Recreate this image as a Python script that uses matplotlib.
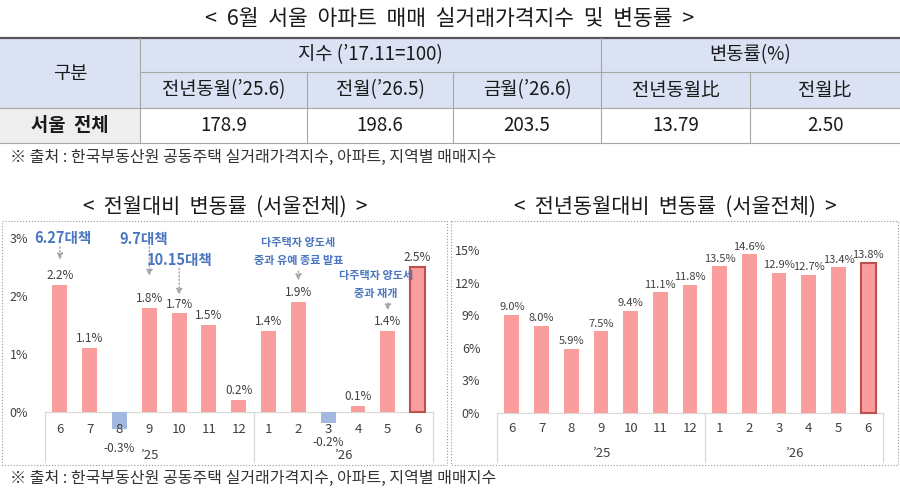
import matplotlib
matplotlib.use('Agg')
import matplotlib.pyplot as plt
import matplotlib.ticker as mticker
from matplotlib.patches import Rectangle

plt.rcParams['font.family'] = ['Noto Sans CJK KR', 'DejaVu Sans']

# ---- data ----
title = '<  6월  서울  아파트  매매  실거래가격지수  및  변동률  >'
head_group = ['지수 (’17.11=100)', '변동률(%)']
head_cols = ['전년동월(’25.6)', '전월(’26.5)', '금월(’26.6)', '전년동월比', '전월比']
row_name = '서울  전체'
row_values = ['178.9', '198.6', '203.5', '13.79', '2.50']
source = '※ 출처 : 한국부동산원 공동주택 실거래가격지수, 아파트, 지역별 매매지수'

months = ['6', '7', '8', '9', '10', '11', '12', '1', '2', '3', '4', '5', '6']
years = ['’25', '’26']
mom = [2.2, 1.1, -0.3, 1.8, 1.7, 1.5, 0.2, 1.4, 1.9, -0.2, 0.1, 1.4, 2.5]
yoy = [9.0, 8.0, 5.9, 7.5, 9.4, 11.1, 11.8, 13.5, 14.6, 12.9, 12.7, 13.4, 13.8]
mom_title = '<  전월대비  변동률  (서울전체)  >'
yoy_title = '<  전년동월대비  변동률  (서울전체)  >'

# policy notes on the monthly chart: (text, x of text, y of text, x of arrow, arrow from, arrow to, size)
notes = [
    ('6.27대책', 0.1, 3.0, 0, 2.90, 2.58, 10.5),
    ('9.7대책', 2.8, 2.99, 3, 2.90, 2.30, 10.5),
    ('10.15대책', 4.0, 2.62, 4, 2.53, 1.97, 10.5),
    ('다주택자 양도세\n중과 유예 종료 발표', 8.0, 2.77, 8, 2.48, 2.22, 8),
    ('다주택자 양도세\n중과 재개', 10.6, 2.2, 11, 1.93, 1.70, 8),
]

pos_color = '#fa9d9d'
neg_color = '#a3b8df'
edge_last = '#c0504d'
note_color = '#4a76c0'
text_color = '#404040'

fig = plt.figure(figsize=(9, 4.91), dpi=100)

# background axes in pixel coordinates for the table and frames
bg = fig.add_axes([0, 0, 1, 1])
bg.set_xlim(0, 900)
bg.set_ylim(491, 0)
bg.axis('off')

bg.text(450, 19, title, ha='center', va='center', fontsize=15.5, weight='medium', color='#1a1a1a')

# table grid
cols = [0, 140, 307, 453, 601, 750, 900]
rows = [38, 72, 108, 143]
bg.add_patch(Rectangle((0, rows[0]), 900, rows[2] - rows[0], color='#dae2f3', lw=0))
bg.add_patch(Rectangle((0, rows[2]), cols[1], rows[3] - rows[2], color='#eeeeee', lw=0))
line_c = '#a6a6a6'
bg.plot([0, 900], [rows[0], rows[0]], color='#555555', lw=1.6)
bg.plot([cols[1], 900], [rows[1], rows[1]], color=line_c, lw=0.8)
bg.plot([0, 900], [rows[2], rows[2]], color=line_c, lw=0.8)
bg.plot([0, 900], [rows[3], rows[3]], color=line_c, lw=0.8)
for x in cols[1:-1]:
    top = rows[0] if x in (cols[1], cols[4]) else rows[1]
    bg.plot([x, x], [top, rows[3]], color=line_c, lw=0.8)

cell_fs = 13.5
bg.text(cols[1] / 2, (rows[0] + rows[2]) / 2, '구분', ha='center', va='center', fontsize=cell_fs, color='#1a1a1a')
bg.text((cols[1] + cols[4]) / 2, (rows[0] + rows[1]) / 2, head_group[0], ha='center', va='center',
        fontsize=cell_fs, color='#1a1a1a')
bg.text((cols[4] + cols[6]) / 2, (rows[0] + rows[1]) / 2, head_group[1], ha='center', va='center',
        fontsize=cell_fs, color='#1a1a1a')
for i in range(5):
    cx = (cols[i + 1] + cols[i + 2]) / 2
    bg.text(cx, (rows[1] + rows[2]) / 2, head_cols[i], ha='center', va='center', fontsize=cell_fs, color='#1a1a1a')
    bg.text(cx, (rows[2] + rows[3]) / 2, row_values[i], ha='center', va='center', fontsize=cell_fs, color='#1a1a1a')
bg.text(cols[1] / 2, (rows[2] + rows[3]) / 2, row_name, ha='center', va='center', fontsize=cell_fs,
        weight='bold', color='#1a1a1a')

bg.text(10, 157, source, ha='left', va='center', fontsize=11.5, color='#333333')
bg.text(10, 478, source, ha='left', va='center', fontsize=11.5, color='#333333')

# chart titles and dotted frames
bg.text(225, 207, mom_title, ha='center', va='center', fontsize=15, color='#1a1a1a')
bg.text(675, 207, yoy_title, ha='center', va='center', fontsize=15, color='#1a1a1a')
bg.add_patch(Rectangle((2, 221), 445, 244, fill=False, ec='#9a9a9a', lw=0.8, ls=':'))
bg.add_patch(Rectangle((451, 221), 447, 244, fill=False, ec='#9a9a9a', lw=0.8, ls=':'))


def px_axes(left, top, right, bottom):
    return fig.add_axes([left / 900, 1 - bottom / 491, (right - left) / 900, (bottom - top) / 491])


def draw_bars(ax, values, ylim, ticks, month_y, year_y, lab_off, lab_fs):
    x = list(range(len(values)))
    colors = [pos_color if v >= 0 else neg_color for v in values]
    bars = ax.bar(x, values, width=0.5, color=colors, zorder=2)
    bars[-1].set_edgecolor(edge_last)
    bars[-1].set_linewidth(1.5)
    ax.set_xlim(-0.5, len(values) - 0.5)
    ax.set_ylim(*ylim)
    for s in ax.spines.values():
        s.set_visible(False)
    ax.set_xticks([])
    ax.set_yticks(ticks)
    ax.yaxis.set_major_formatter(mticker.FuncFormatter(lambda v, p: '%d%%' % v))
    ax.tick_params(axis='y', length=0, pad=12, labelsize=9, labelcolor=text_color)
    # category box
    ax.plot([-0.5, len(values) - 0.5], [0, 0], color='#d9d9d9', lw=0.9, zorder=1, clip_on=False)
    for xv in (-0.5, 6.5, len(values) - 0.5):
        ax.plot([xv, xv], [0, ylim[0]], color='#d9d9d9', lw=0.9, clip_on=False)
    for i, m in enumerate(months):
        ax.text(i, month_y, m, ha='center', va='center', fontsize=9.5, color=text_color)
    ax.text(3, year_y, years[0], ha='center', va='center', fontsize=9.5, color=text_color)
    ax.text(9.5, year_y, years[1], ha='center', va='center', fontsize=9.5, color=text_color)
    for i, v in enumerate(values):
        if v >= 0:
            ax.annotate('%.1f%%' % v, (i, v), xytext=(0, 2), textcoords='offset points',
                        ha='center', va='bottom', fontsize=lab_fs, color=text_color)
        else:
            ax.annotate('%.1f%%' % v, (i, v), xytext=(0, -lab_off), textcoords='offset points',
                        ha='center', va='top', fontsize=lab_fs, color=text_color)


ax1 = px_axes(45, 232.5, 432.5, 462)
draw_bars(ax1, mom, (-0.87, 3.1), [0, 1, 2, 3], -0.31, -0.75, 9.5, 8.5)

for txt, tx, ty, ax_x, a0, a1, fs in notes:
    ax1.text(tx, ty, txt, ha='center', va='center', fontsize=fs, weight='bold', color=note_color,
             linespacing=1.55)
    ax1.annotate('', xy=(ax_x, a1), xytext=(ax_x, a0),
                 arrowprops=dict(arrowstyle='-|>', ls=':', color='#a6a6a6', lw=1.0, mutation_scale=9))

ax2 = px_axes(497, 232.8, 883, 462)
draw_bars(ax2, yoy, (-4.55, 16.6), [0, 3, 6, 9, 12, 15], -1.5, -3.8, 8, 8)

fig.savefig('out.png', dpi=100)
